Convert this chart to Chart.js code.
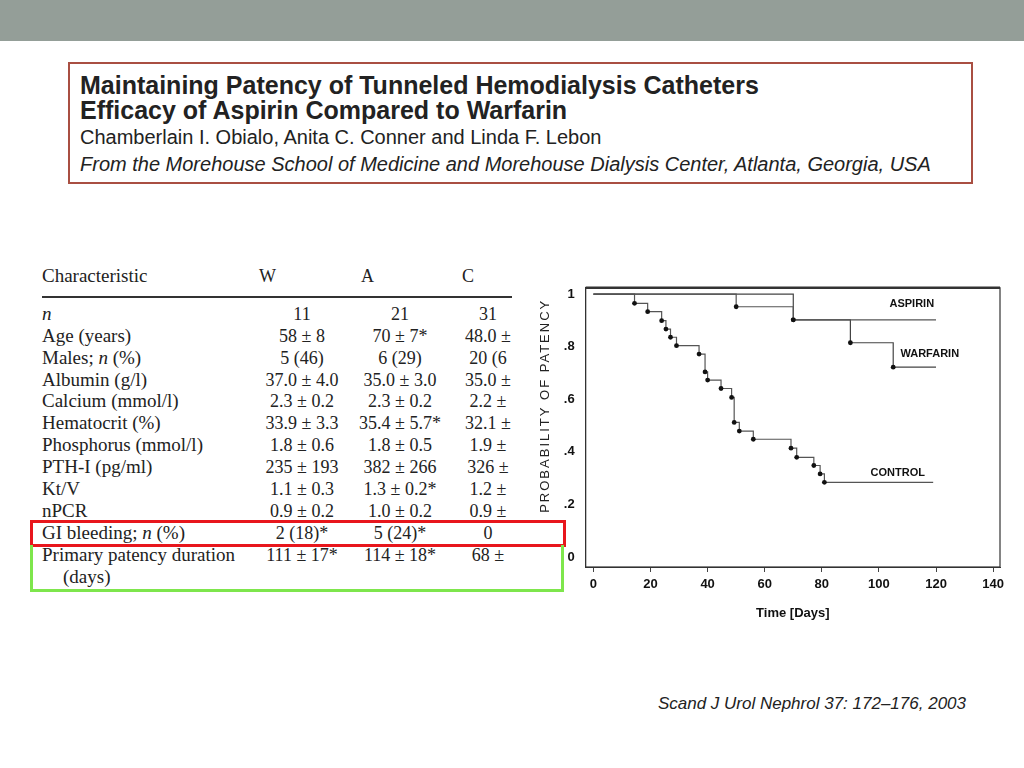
<!DOCTYPE html>
<html>
<head>
<meta charset="utf-8">
<script src="https://cdn.jsdelivr.net/npm/chart.js@4/dist/chart.umd.min.js"></script>
<style>
  body { margin: 0; width: 1024px; height: 768px; background: #fff; position: relative; overflow: hidden; font-family: "Liberation Sans", Arial, sans-serif; }
  .topbar { position: absolute; left: 0; top: 0; width: 1024px; height: 41px; background: #949e98; }
  .titlebox { position: absolute; left: 68px; top: 62px; width: 901px; height: 118px; border: 2px solid #a94f42; }
  .tl { position: absolute; left: 80px; white-space: nowrap; color: #222; }
  .t1 { font-weight: bold; font-size: 25px; line-height: 26px; }
  .t3 { font-size: 20px; line-height: 22px; }
  .t4 { font-size: 20px; line-height: 22px; font-style: italic; }
  .table { position: absolute; left: 0; top: 0; width: 512px; height: 600px; overflow: hidden; font-family: "Liberation Serif", "Times New Roman", serif; font-size: 18px; color: #222; }
  .row { position: absolute; left: 0; width: 600px; height: 22px; line-height: 22px; white-space: nowrap; }
  .row span { position: absolute; top: 0; }
  .lab { left: 42px; font-size: 19px; }
  .w { left: 252px; width: 100px; text-align: center; }
  .a { left: 350px; width: 100px; text-align: center; }
  .c { left: 438px; width: 100px; text-align: center; }
  .rule { position: absolute; left: 42px; top: 296px; width: 470px; height: 2px; background: #333; }
  .redbox { position: absolute; left: 30px; top: 520px; width: 530px; height: 21px; border: 3px solid #e8161c; }
  .greenbox { position: absolute; left: 30px; top: 545px; width: 528px; height: 44px; border: 3px solid #7ee64c; border-top: none; }
  .cite { position: absolute; right: 58px; top: 694px; font-size: 17px; font-style: italic; color: #222; white-space: nowrap; }
  #wrap { position: absolute; left: 530px; top: 269px; width: 480px; height: 361px; }
</style>
</head>
<body>
<div class="topbar"></div>
<div class="titlebox"></div>
<div class="tl t1" style="top:72px">Maintaining Patency of Tunneled Hemodialysis Catheters</div>
<div class="tl t1" style="top:97px">Efficacy of Aspirin Compared to Warfarin</div>
<div class="tl t3" style="top:126px">Chamberlain I. Obialo, Anita C. Conner and Linda F. Lebon</div>
<div class="tl t4" style="top:153px">From the Morehouse School of Medicine and Morehouse Dialysis Center, Atlanta, Georgia, USA</div>

<div class="table">
  <div class="row" style="top:265px"><span class="lab">Characteristic</span><span style="left:259px">W</span><span style="left:361px">A</span><span style="left:462px">C</span></div>
  <div class="rule"></div>
  <div class="row" style="top:303px"><span class="lab"><i>n</i></span><span class="w">11</span><span class="a">21</span><span class="c">31</span></div>
  <div class="row" style="top:325px"><span class="lab">Age (years)</span><span class="w">58 ± 8</span><span class="a">70 ± 7*</span><span class="c">48.0 ±</span></div>
  <div class="row" style="top:347px"><span class="lab">Males; <i>n</i> (%)</span><span class="w">5 (46)</span><span class="a">6 (29)</span><span class="c">20 (6</span></div>
  <div class="row" style="top:369px"><span class="lab">Albumin (g/l)</span><span class="w">37.0 ± 4.0</span><span class="a">35.0 ± 3.0</span><span class="c">35.0 ±</span></div>
  <div class="row" style="top:390px"><span class="lab">Calcium (mmol/l)</span><span class="w">2.3 ± 0.2</span><span class="a">2.3 ± 0.2</span><span class="c">2.2 ±</span></div>
  <div class="row" style="top:412px"><span class="lab">Hematocrit (%)</span><span class="w">33.9 ± 3.3</span><span class="a">35.4 ± 5.7*</span><span class="c">32.1 ±</span></div>
  <div class="row" style="top:434px"><span class="lab">Phosphorus (mmol/l)</span><span class="w">1.8 ± 0.6</span><span class="a">1.8 ± 0.5</span><span class="c">1.9 ±</span></div>
  <div class="row" style="top:456px"><span class="lab">PTH-I (pg/ml)</span><span class="w">235 ± 193</span><span class="a">382 ± 266</span><span class="c">326 ±</span></div>
  <div class="row" style="top:478px"><span class="lab">Kt/V</span><span class="w">1.1 ± 0.3</span><span class="a">1.3 ± 0.2*</span><span class="c">1.2 ±</span></div>
  <div class="row" style="top:500px"><span class="lab">nPCR</span><span class="w">0.9 ± 0.2</span><span class="a">1.0 ± 0.2</span><span class="c">0.9 ±</span></div>
  <div class="row" style="top:522px"><span class="lab">GI bleeding; <i>n</i> (%)</span><span class="w">2 (18)*</span><span class="a">5 (24)*</span><span class="c">0</span></div>
  <div class="row" style="top:544px"><span class="lab">Primary patency duration</span><span class="w">111 ± 17*</span><span class="a">114 ± 18*</span><span class="c">68 ±</span></div>
  <div class="row" style="top:566px"><span class="lab" style="left:63px">(days)</span></div>
</div>
<div class="redbox"></div>
<div class="greenbox"></div>

<div id="wrap"><canvas id="km"></canvas></div>

<div class="cite">Scand J Urol Nephrol 37: 172–176, 2003</div>

<script>
// Kaplan-Meier data
const aspirinDays = [0, 50, 70, 120];
const aspirinSurv = [1, 0.952, 0.902, 0.902];

const warfarinDays = [0, 70, 90, 105, 120];
const warfarinSurv = [1, 0.902, 0.815, 0.722, 0.722];

const controlDays = [0, 14.4, 19, 23.9, 25.4, 27, 29.1, 37, 39.1, 40, 44.7, 48.4, 49.3, 51.1, 56, 69.2, 71.2, 77.2, 79.4, 80.9, 119];
const controlSurv = [1, 0.965, 0.933, 0.899, 0.867, 0.836, 0.804, 0.772, 0.704, 0.673, 0.641, 0.607, 0.512, 0.479, 0.448, 0.414, 0.379, 0.348, 0.316, 0.284, 0.284];

const xTicks = [0, 20, 40, 60, 80, 100, 120, 140];
const yTicks = [0, 0.2, 0.4, 0.6, 0.8, 1];
const yTickLabels = ["0", ".2", ".4", ".6", ".8", "1"];

const seriesNames = ["ASPIRIN", "WARFARIN", "CONTROL"];
const yTitle = "PROBABILITY OF PATENCY";

function toPoints(days, surv) {
    return days.map((d, i) => ({ x: d, y: surv[i] }));
}

function dotRadius(ctx) {
    const last = ctx.dataset.data.length - 1;
    return ctx.dataIndex === 0 || ctx.dataIndex === last ? 0 : 2.4;
}

// frame around the plot
const frame = {
    id: "frame",
    beforeDatasetsDraw(chart) {
        const { ctx, chartArea: a } = chart;
        ctx.save();
        ctx.strokeStyle = "#333";
        ctx.lineWidth = 1.2;
        ctx.strokeRect(a.left, a.top, a.right - a.left, a.bottom - a.top);
        ctx.lineWidth = 2.5;
        ctx.beginPath();
        ctx.moveTo(a.left, a.top);
        ctx.lineTo(a.right, a.top);
        ctx.stroke();
        ctx.restore();
    },
};

// curve names next to the curves + spaced y axis title
const labelAnchor = { ASPIRIN: [111.5, 0.962], WARFARIN: [117.8, 0.771], CONTROL: [106.6, 0.318] };
const curveNames = {
    id: "curveNames",
    afterDatasetsDraw(chart) {
        const { ctx, scales, chartArea } = chart;
        ctx.save();
        ctx.font = "bold 11px 'Liberation Sans', Arial";
        ctx.fillStyle = "#111";
        ctx.textAlign = "center";
        ctx.textBaseline = "middle";
        seriesNames.forEach((name) => {
            const p = labelAnchor[name];
            ctx.fillText(name, scales.x.getPixelForValue(p[0]), scales.y.getPixelForValue(p[1]));
        });
        ctx.restore();

        ctx.save();
        ctx.font = "13px 'Liberation Sans', Arial";
        ctx.letterSpacing = "2px";
        ctx.fillStyle = "#222";
        ctx.textAlign = "center";
        ctx.textBaseline = "middle";
        ctx.translate(scales.y.left + 15, chartArea.top + 118);
        ctx.rotate(-Math.PI / 2);
        ctx.fillText(yTitle, 0, 0);
        ctx.restore();
    },
};

const km = document.getElementById("km");

new Chart(km, {
    type: "line",
    data: {
        datasets: [
            {
                label: seriesNames[0],
                data: toPoints(aspirinDays, aspirinSurv),
                stepped: true,
                borderColor: "#555",
                borderWidth: 1.2,
                pointRadius: dotRadius,
                pointBackgroundColor: "#111",
                pointBorderWidth: 0,
            },
            {
                label: seriesNames[1],
                data: toPoints(warfarinDays, warfarinSurv),
                stepped: true,
                borderColor: "#444",
                borderWidth: 1.2,
                pointRadius: dotRadius,
                pointBackgroundColor: "#111",
                pointBorderWidth: 0,
            },
            {
                label: seriesNames[2],
                data: toPoints(controlDays, controlSurv),
                stepped: true,
                borderColor: "#555",
                borderWidth: 1.2,
                pointRadius: dotRadius,
                pointBackgroundColor: "#111",
                pointBorderWidth: 0,
            },
        ],
    },
    options: {
        responsive: true,
        maintainAspectRatio: false,
        animation: false,
        layout: { padding: { left: 0, right: 10, top: 6, bottom: 0 } },
        plugins: {
            legend: { display: false },
            tooltip: { enabled: false },
        },
        scales: {
            x: {
                type: "linear",
                min: -2.7,
                max: 142.4,
                afterBuildTicks: (s) => { s.ticks = xTicks.map((v) => ({ value: v })); },
                afterFit: (s) => { s.height = 63; },
                grid: { drawOnChartArea: false, drawTicks: true, tickLength: 5, color: "#444" },
                border: { color: "#333" },
                ticks: {
                    padding: 5,
                    color: "#111",
                    font: { family: "'Liberation Sans', Arial", size: 13, weight: "bold" },
                },
                title: {
                    display: true,
                    text: "Time [Days]",
                    color: "#111",
                    padding: { top: 0, bottom: 9 },
                    font: { family: "'Liberation Sans', Arial", size: 13, weight: "bold" },
                },
            },
            y: {
                min: -0.038,
                max: 1.024,
                afterBuildTicks: (s) => { s.ticks = yTicks.map((v) => ({ value: v })); },
                afterFit: (s) => { s.width = 55.7; },
                grid: { display: false, drawTicks: false },
                border: { color: "#333" },
                ticks: {
                    padding: 11,
                    color: "#111",
                    callback: (v) => yTickLabels[yTicks.indexOf(v)] ?? "",
                    font: { family: "'Liberation Sans', Arial", size: 13, weight: "bold" },
                },
            },
        },
    },
    plugins: [frame, curveNames],
});
</script>
</body>
</html>
